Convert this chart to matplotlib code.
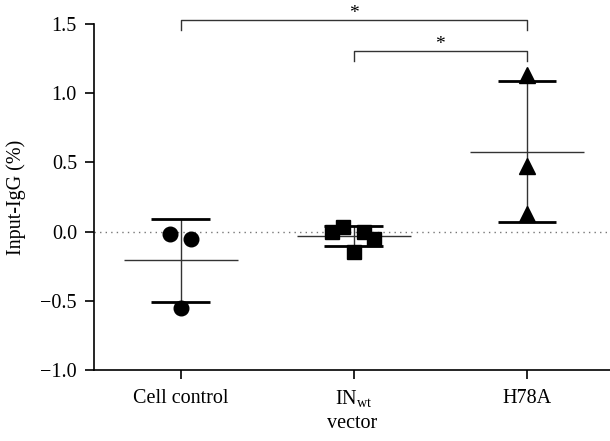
import numpy as np
import matplotlib
matplotlib.use("Agg")
import matplotlib.pyplot as plt

plt.rcParams['font.family'] = ['Liberation Serif', 'DejaVu Serif']
plt.rcParams['mathtext.fontset'] = 'custom'
plt.rcParams['mathtext.rm'] = 'Liberation Serif'

categories = ['Cell control', r'IN$_{\mathrm{wt}}$', 'H78A']
cell_control = [-0.019, -0.053, -0.553]
in_wt = [-0.004, 0.036, 0.0, -0.053, -0.151]
h78a = [1.13, 0.474, 0.128]
groups = [cell_control, in_wt, h78a]
jitter = [[-0.06, 0.058, 0.0],
          [-0.125, -0.062, 0.058, 0.117, 0.0],
          [0.0, 0.0, 0.0]]
markers = ['o', 's', '^']
marker_sizes = [10.5, 10.5, 11]

# significance brackets: (from group, to group, bar height, leg end, star height)
brackets = [(0, 2, 1.527, 1.46, 1.575), (1, 2, 1.304, 1.23, 1.35)]

fig = plt.figure(figsize=(6.1, 4.41), dpi=100)
ax = fig.add_axes([0.1546, 0.161, 0.8454, 0.7846])

ax.axhline(0, color='#777777', linestyle=(0, (1, 3)), linewidth=1.0, zorder=1)

for i, vals in enumerate(groups):
    vals = np.array(vals)
    m = vals.mean()
    sd = vals.std(ddof=1)
    ax.hlines(m, i - 0.33, i + 0.33, color='#333333', linewidth=1.0, zorder=2)
    ax.vlines(i, m - sd, m + sd, color='#333333', linewidth=1.0, zorder=2)
    ax.hlines([m - sd, m + sd], i - 0.17, i + 0.17, color='black', linewidth=2.0, zorder=2)
    ax.plot(i + np.array(jitter[i]), vals, linestyle='none', marker=markers[i],
            markersize=marker_sizes[i], color='black', zorder=3, clip_on=False)

for a, b, ytop, ylow, ystar in brackets:
    ax.plot([a, a, b, b], [ylow, ytop, ytop, ylow], color='#333333', linewidth=1.0,
            clip_on=False, zorder=2)
    ax.text((a + b) / 2, ystar, '*', ha='center', va='center', fontsize=14)

ax.set_xlim(-0.5, 2.48)
ax.set_ylim(-1.0, 1.5)
ax.set_yticks([-1.0, -0.5, 0.0, 0.5, 1.0, 1.5])
ax.set_yticklabels(['\u22121.0', '\u22120.5', '0.0', '0.5', '1.0', '1.5'])
ax.set_xticks(range(len(categories)))
ax.set_xticklabels(categories)
ax.set_xlabel('vector', fontsize=14.5, labelpad=3)
ax.set_ylabel('Input-IgG (%)', fontsize=14.5, labelpad=10)

ax.spines['top'].set_visible(False)
ax.spines['right'].set_visible(False)
for s in ['left', 'bottom']:
    ax.spines[s].set_linewidth(1.2)
ax.tick_params(axis='both', direction='out', length=6.5, width=1.2, labelsize=14.5, pad=6)
ax.tick_params(axis='x', pad=7)

fig.savefig('out.png', dpi=100)
